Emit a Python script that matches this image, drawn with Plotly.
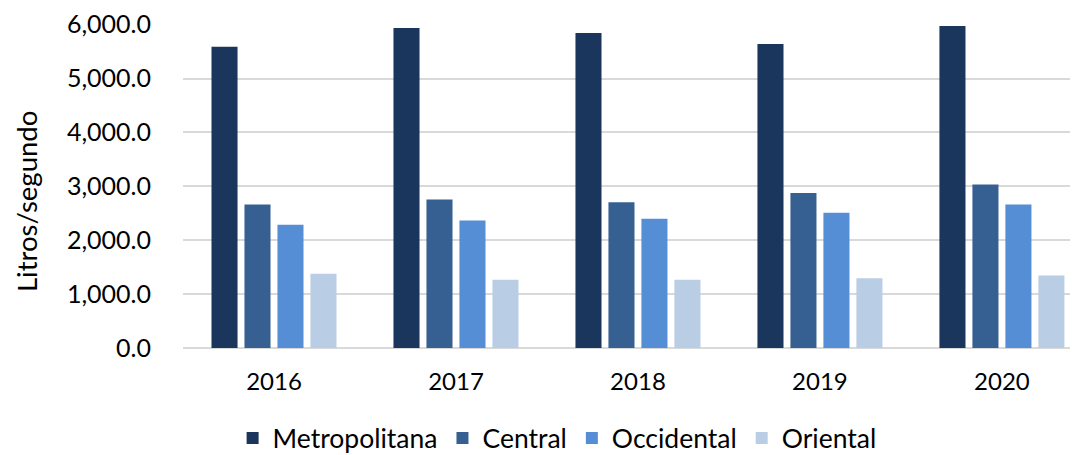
import plotly.graph_objects as go

years = ["2016", "2017", "2018", "2019", "2020"]
metropolitana = [5590, 5940, 5845, 5640, 5975]
central = [2665, 2755, 2705, 2875, 3035]
occidental = [2285, 2365, 2400, 2510, 2665]
oriental = [1380, 1265, 1265, 1295, 1345]

series = [
    ("Metropolitana", metropolitana, "#1b365d"),
    ("Central", central, "#376092"),
    ("Occidental", occidental, "#558ed5"),
    ("Oriental", oriental, "#b9cde5"),
]

FONT = "Lato, Calibri, 'Open Sans', sans-serif"

fig = go.Figure()
for name, vals, col in series:
    fig.add_trace(go.Bar(x=years, y=vals, name=name, marker=dict(color=col, line=dict(width=0))))

# page shows the figure offset by the 8px default body margin
fig.update_layout(
    width=1070, height=447,
    margin=dict(l=175, r=0, t=16, b=107, autoexpand=False),
    paper_bgcolor="white", plot_bgcolor="white",
    barmode="group", bargap=0.275, bargroupgap=0.21,
    font=dict(family=FONT, color="#000000", size=24),
    showlegend=True,
    legend=dict(orientation="h", x=0.418, xanchor="center", y=-0.279, yanchor="middle",
                font=dict(size=26.5, family=FONT), traceorder="normal"),
)
fig.update_xaxes(range=[-0.5, 4.418], showgrid=False, showline=False, ticks="",
                 tickfont=dict(size=24, family=FONT), ticklabelstandoff=17, automargin=False)
fig.update_yaxes(range=[0, 6012], tickvals=[0, 1000, 2000, 3000, 4000, 5000, 6000],
                 tickformat=",.1f", showgrid=True, gridcolor="#d9d9d9", gridwidth=1.5,
                 zeroline=True, zerolinecolor="#d9d9d9", zerolinewidth=1.5,
                 showline=False, ticks="", tickfont=dict(size=25, family=FONT),
                 ticklabelstandoff=31, automargin=False, ticklabeloverflow="allow")
fig.add_annotation(text="Litros/segundo", xref="paper", yref="paper",
                   x=-(175 - 18) / 895, y=(340 - 194) / 324, textangle=-90, showarrow=False,
                   font=dict(size=27.5, family=FONT), xanchor="center", yanchor="middle")

fig.write_html("out.html")
